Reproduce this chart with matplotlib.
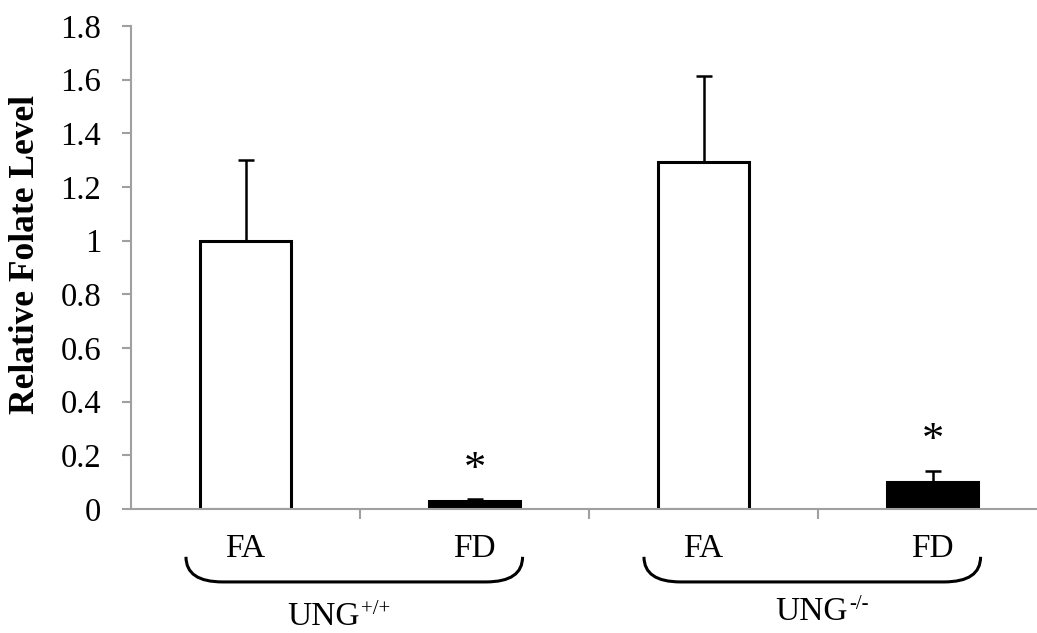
import numpy as np
import matplotlib.pyplot as plt
from matplotlib.path import Path
from matplotlib.patches import PathPatch
import matplotlib.transforms as mtransforms

plt.rcParams['font.family'] = ['Liberation Serif', 'DejaVu Serif']

# data
conditions = ['FA', 'FD', 'FA', 'FD']
values = [1.0, 0.03, 1.295, 0.10]
errors = [0.30, 0.007, 0.317, 0.042]
colors = ['white', 'black', 'white', 'black']
significant = [False, True, False, True]
groups = ['UNG', 'UNG']
group_sup = ['+/+', '-/-']
yticks = [0, 0.2, 0.4, 0.6, 0.8, 1, 1.2, 1.4, 1.6, 1.8]

fig = plt.figure(figsize=(10.37, 6.33), dpi=100)
ax = fig.add_axes([131/1037, 124/633, 1 - 131/1037, 483/633])

x = np.arange(len(values))
ax.bar(x, values, width=0.4, color=colors, edgecolor='black', linewidth=2.2, zorder=2)
ax.errorbar(x, values, yerr=[np.zeros(len(errors)), errors], fmt='none',
            ecolor='black', elinewidth=1.8, capsize=5.5, capthick=1.8, zorder=3)

ax.set_ylim(0, 1.8)
ax.set_xlim(-0.5, 3.5 - 10/229)
ax.set_yticks(yticks)
ax.set_yticklabels(['0', '0.2', '0.4', '0.6', '0.8', '1', '1.2', '1.4', '1.6', '1.8'])
ax.set_xticks([0.5, 1.5, 2.5])
ax.set_xticklabels([])

for s in ['top', 'right']:
    ax.spines[s].set_visible(False)
for s in ['left', 'bottom']:
    ax.spines[s].set_color('#a0a0a0')
    ax.spines[s].set_linewidth(1.5)
ax.tick_params(axis='y', direction='out', length=6.5, width=1.5, color='#a0a0a0',
               labelsize=23.5, pad=15)
ax.tick_params(axis='x', direction='out', length=7, width=1.5, color='#a0a0a0')

# significance stars
for i in range(len(values)):
    if significant[i]:
        top = values[i] + errors[i]
        ax.text(x[i], top + 0.11, '*', ha='center', va='center', fontsize=32)

trans = mtransforms.blended_transform_factory(ax.transData, ax.transAxes)

# condition labels
for i, c in enumerate(conditions):
    ax.text(x[i], -0.083, c, ha='center', va='center', fontsize=24,
            transform=trans, clip_on=False)

# braces under each group
def brace(x0, x1, ytop, ybot, dx):
    verts = [(x0, ytop), (x0, ybot), (x0 + dx, ybot),
             (x1 - dx, ybot),
             (x1, ybot), (x1, ytop)]
    codes = [Path.MOVETO, Path.CURVE3, Path.CURVE3,
             Path.LINETO,
             Path.CURVE3, Path.CURVE3]
    return Path(verts, codes)

for g in range(2):
    c = 2 * g
    p = brace(c - 0.26, c + 1.21, -0.099, -0.151, 0.16)
    ax.add_patch(PathPatch(p, facecolor='none', edgecolor='black', linewidth=2.2,
                           transform=trans, clip_on=False))

ypos = [-0.224, -0.213]
xpos = [0.5, 2.63]
for g in range(2):
    ax.text(xpos[g], ypos[g], groups[g], ha='right', va='center', fontsize=24,
            transform=trans, clip_on=False)
    ax.text(xpos[g] + 0.005, ypos[g] + 0.016, group_sup[g], ha='left', va='center',
            fontsize=15, transform=trans, clip_on=False)

fig.text(26/1037, 1 - 254/633, 'Relative Folate Level', rotation=90, ha='center',
         va='center', fontsize=25.5, fontweight='bold')

fig.savefig('out.png', dpi=100)
